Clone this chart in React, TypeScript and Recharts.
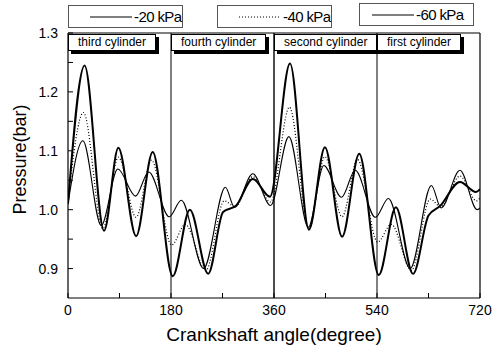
import React from 'react';
import { LineChart, Line, XAxis, YAxis, ReferenceLine, ReferenceArea } from 'recharts';

const seriesNames = ['-20 kPa', '-40 kPa', '-60 kPa'];

const angle20 = [0, 29, 63, 88, 119, 148, 183, 213, 245, 271, 294, 323, 353, 388, 421, 449, 479, 509, 543, 573, 603, 630, 650, 685, 713, 720];
const p20 = [1.01, 1.245, 0.964, 1.105, 0.955, 1.098, 0.887, 1.0, 0.891, 0.996, 1.007, 1.052, 1.022, 1.248, 0.966, 1.106, 0.954, 1.095, 0.889, 1.004, 0.891, 0.99, 1.006, 1.047, 1.03, 1.035];

const angle40 = [0, 27, 61, 88, 119, 146, 181, 205, 241, 273, 292, 323, 354, 387, 421, 449, 479, 506, 541, 565, 600, 633, 651, 685, 714, 720];
const p40 = [1.015, 1.165, 0.968, 1.089, 0.987, 1.084, 0.94, 0.975, 0.897, 1.015, 1.005, 1.056, 1.013, 1.174, 0.968, 1.09, 0.988, 1.085, 0.945, 0.975, 0.897, 1.018, 1.005, 1.057, 1.015, 1.02];

const angle60 = [0, 26, 58, 87, 118, 141, 177, 198, 237, 275, 291, 323, 354, 386, 420, 447, 478, 502, 537, 560, 598, 635, 652, 685, 715, 720];
const p60 = [1.01, 1.117, 0.973, 1.069, 1.023, 1.064, 0.988, 1.016, 0.9, 1.038, 1.004, 1.061, 1.007, 1.124, 0.97, 1.075, 1.021, 1.067, 0.987, 1.019, 0.9, 1.041, 1.003, 1.067, 1.0, 1.003];

const xTicks = [0, 90, 180, 270, 360, 450, 540, 630, 720];
const xTickLabels = ['0', '', '180', '', '360', '', '540', '', '720'];
const yTicks = [0.9, 0.95, 1.0, 1.05, 1.1, 1.15, 1.2, 1.25, 1.3];
const yTickLabels = ['0.9', '', '1.0', '', '1.1', '', '1.2', '', '1.3'];

const sectionBounds = [0, 180, 360, 540, 720];
const cylinderLabels = ['third cylinder', 'fourth cylinder', 'second cylinder', 'first cylinder'];

const toRows = (a: number[], p: number[]) => a.map((angle, i) => ({ angle, p: p[i] }));
const data20 = toRows(angle20, p20);
const data40 = toRows(angle40, p40);
const data60 = toRows(angle60, p60);

const FONT = '"Liberation Sans", Arial, sans-serif';

const CylLabel = (props: any) => {
  const { viewBox, text } = props;
  if (!viewBox) return null;
  return (
    <foreignObject x={viewBox.x} y={viewBox.y - 1} width={130} height={24}>
      <div style={{ display: 'inline-block', background: '#fff', border: '1px solid #000', boxShadow: '3px 3px 0 #000', padding: '0 9px', height: 15, lineHeight: '15px', fontFamily: FONT, fontSize: 12, color: '#000', whiteSpace: 'nowrap' }}>{text}</div>
    </foreignObject>
  );
};

const YLabel = (props: any) => {
  const { viewBox } = props;
  if (!viewBox) return null;
  const cx = viewBox.x + 26;
  const cy = viewBox.y + viewBox.height / 2 - 6;
  return (
    <text x={cx} y={cy} transform={`rotate(-90, ${cx}, ${cy})`} textAnchor="middle" fontFamily={FONT} fontSize={18} fill="#000">Pressure(bar)</text>
  );
};

const legendLefts = [68, 217, 359];
const legendDash = ['none', '1 2', 'none'];

export default function App() {
  return (
    <div style={{ position: 'absolute', left: 0, top: 0, width: 497, height: 349, background: '#fff' }}>
      <LineChart width={497} height={349} data={data20} margin={{ top: 33, right: 17, bottom: 0, left: 0 }}>
        <XAxis dataKey="angle" type="number" domain={[0, 720]} ticks={xTicks} allowDataOverflow
          tickFormatter={(v: number) => xTickLabels[xTicks.indexOf(v)] ?? ''}
          tickSize={-5} tickMargin={12} height={51}
          axisLine={{ stroke: '#000', strokeWidth: 1.2 }} tickLine={{ stroke: '#000' }}
          tick={{ fill: '#000', fontFamily: FONT, fontSize: 14 }}
          label={{ value: 'Crankshaft angle(degree)', position: 'insideBottom', offset: 8, fill: '#000', fontFamily: FONT, fontSize: 19 }} />
        <YAxis type="number" domain={[0.85, 1.3]} ticks={yTicks} allowDataOverflow width={68}
          tickFormatter={(v: number) => yTickLabels[yTicks.findIndex(t => Math.abs(t - v) < 1e-9)] ?? ''}
          tickSize={-5} tickMargin={15}
          axisLine={{ stroke: '#000', strokeWidth: 1.2 }} tickLine={{ stroke: '#000' }}
          tick={{ fill: '#000', fontFamily: FONT, fontSize: 14 }}
          label={<YLabel />} />
        <ReferenceLine y={1.3} stroke="#000" strokeWidth={1.2} />
        <ReferenceLine x={720} stroke="#000" strokeWidth={1.2} />
        {sectionBounds.slice(1, 4).map(b => (
          <ReferenceLine key={b} x={b} stroke="#000" strokeWidth={b === 360 ? 1.4 : 1} />
        ))}
        <Line data={data20} dataKey="p" name={seriesNames[0]} type="monotone" stroke="#000" strokeWidth={2} dot={false} isAnimationActive={false} />
        <Line data={data40} dataKey="p" name={seriesNames[1]} type="monotone" stroke="#000" strokeWidth={1.2} strokeDasharray="1 2" dot={false} isAnimationActive={false} />
        <Line data={data60} dataKey="p" name={seriesNames[2]} type="monotone" stroke="#000" strokeWidth={1.1} dot={false} isAnimationActive={false} />
        {cylinderLabels.map((t, i) => (
          <ReferenceArea key={t} x1={sectionBounds[i]} x2={sectionBounds[i + 1]} fill="none" fillOpacity={0} stroke="none" label={<CylLabel text={t} />} />
        ))}
      </LineChart>
      {seriesNames.map((n, i) => (
        <div key={n} style={{ position: 'absolute', left: legendLefts[i], top: i === 2 ? 3 : 5, width: 115, height: 23, border: '1px solid #555', boxSizing: 'border-box', background: '#fff', display: 'flex', alignItems: 'center', fontFamily: FONT, fontSize: 15, color: '#000' }}>
          <svg width={42} height={4} style={{ marginLeft: i === 2 ? 12 : 21 }}>
            <line x1={0} y1={2} x2={42} y2={2} stroke="#000" strokeWidth={1.2} strokeDasharray={legendDash[i]} />
          </svg>
          <span style={{ marginLeft: 2, letterSpacing: -0.6 }}>{n}</span>
        </div>
      ))}
    </div>
  );
}
